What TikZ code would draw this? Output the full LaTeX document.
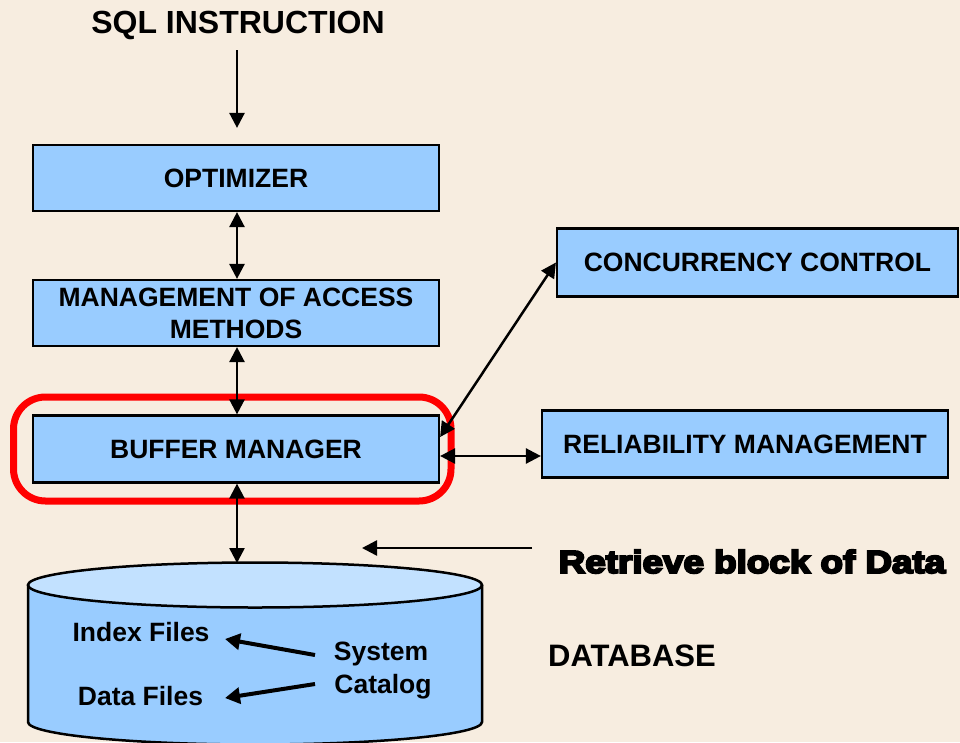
\documentclass[tikz,border=0pt]{standalone}
\usepackage{fontspec}
\setmainfont{Liberation Sans}
\newfontfamily\blackfont{Liberation Sans Bold}[FakeBold=6]
\usetikzlibrary{arrows.meta}
\definecolor{bg}{HTML}{F7EDE0}
\definecolor{boxblue}{HTML}{99CCFF}
\definecolor{toplight}{HTML}{C2E1FF}
\definecolor{hlred}{HTML}{FF0000}
\tikzset{
  blockbox/.style={draw=black, line width=2.2pt, fill=boxblue, inner sep=0pt,
    align=center, font=\fontsize{26.5}{32}\selectfont\bfseries},
  lbl/.style={inner sep=0pt, anchor=base, font=\fontsize{26.5}{32}\selectfont\bfseries},
  arr/.style={line width=2.5pt, -{Triangle[length=15pt,width=15pt]}},
  darr/.style={line width=2.5pt, {Triangle[length=15pt,width=15pt]}-{Triangle[length=15pt,width=15pt]}},
  thickarr/.style={line width=4pt, -{Triangle[length=15pt,width=16pt]}},
}
\begin{document}
\begin{tikzpicture}[x=1pt,y=-1pt]
\useasboundingbox (0,0) rectangle (960,742);
\fill[bg] (0,0) rectangle (960,742);

% title
\node[lbl, font=\fontsize{32}{36}\selectfont\bfseries] (sql) at (238,33) {SQL INSTRUCTION};

% boxes
\node[blockbox, minimum width=406pt, minimum height=66pt] (opt) at (236,178) {OPTIMIZER};
\node[blockbox, minimum width=406pt, minimum height=66pt] (man) at (236,313) {MANAGEMENT OF ACCESS\\METHODS};
\node[blockbox, minimum width=406pt, minimum height=67pt] (buf) at (236,449) {BUFFER MANAGER};
\node[blockbox, minimum width=401pt, minimum height=68pt] (conc) at (757.5,262.5) {CONCURRENCY CONTROL};
\node[blockbox, minimum width=406pt, minimum height=67pt] (rel) at (745,444) {RELIABILITY MANAGEMENT};

% red highlight
\draw[hlred, line width=7pt, rounded corners=32pt] (13.5,397) rectangle (451,501);

% database cylinder
\draw[fill=boxblue, line width=2.5pt] (28,585) -- (28,722)
  arc[start angle=180, end angle=0, x radius=227, y radius=22.5] -- (482,585);
\draw[fill=toplight, line width=2.5pt] (255,585) ellipse[x radius=227, y radius=22.5];
\coordinate (dbtop) at (237,563);

\node[lbl] (idx) at (141,641) {Index Files};
\node[lbl] (dat) at (140.5,705) {Data Files};
\node[lbl] (sys) at (381,660) {System};
\node[lbl] (cat) at (383,693) {Catalog};
\coordinate (sysA) at (315,655);
\coordinate (sysB) at (315,684);
\coordinate (idxTip) at (225,639);
\coordinate (datTip) at (225,698);
\draw[thickarr] (sysA) -- (idxTip);
\draw[thickarr] (sysB) -- (datTip);

\node[lbl, font=\fontsize{31}{36}\selectfont\bfseries] (dbl) at (632,666) {DATABASE};

% retrieve
\node[inner sep=0pt, anchor=base] (ret) at (752,573)
  {\scalebox{1.15}[1]{\blackfont\fontsize{32}{38}\selectfont Retrieve block of Data}};
\coordinate (retA) at (532,548);
\coordinate (retB) at (362,548);
\draw[arr] (retA) -- (retB);

% connectors
\coordinate (sqlfoot) at (237,50);
\draw[arr, shorten >=16pt] (sqlfoot) -- (opt.north -| sqlfoot);
\draw[darr] (opt.south -| sqlfoot) -- (man.north -| sqlfoot);
\draw[darr] (man.south -| sqlfoot) -- (buf.north -| sqlfoot);
\draw[darr] (buf.south -| sqlfoot) -- (dbtop);
\draw[darr] ([yshift=12pt]buf.east) -- (conc.west);
\draw[darr] ([yshift=-7pt]buf.east) -- ([yshift=-7pt]buf.east -| rel.west);
\end{tikzpicture}
\end{document}
